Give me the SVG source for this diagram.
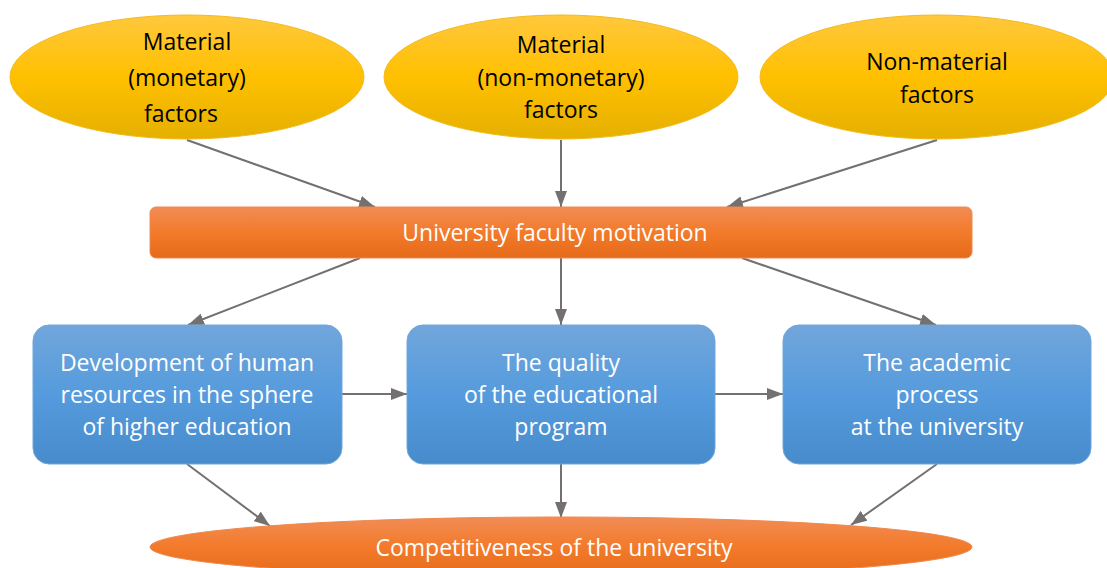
<svg xmlns="http://www.w3.org/2000/svg" width="1107" height="568" viewBox="0 0 1107 568">
<defs>
<linearGradient id="gY" x1="0" y1="0" x2="0" y2="1">
<stop offset="0" stop-color="#FFC83E"/><stop offset="0.5" stop-color="#FFC000"/><stop offset="1" stop-color="#E5B000"/>
</linearGradient>
<linearGradient id="gO" x1="0" y1="0" x2="0" y2="1">
<stop offset="0" stop-color="#F18C55"/><stop offset="0.5" stop-color="#F37A2A"/><stop offset="1" stop-color="#E56B1A"/>
</linearGradient>
<linearGradient id="gB" x1="0" y1="0" x2="0" y2="1">
<stop offset="0" stop-color="#71A6DB"/><stop offset="0.5" stop-color="#559BDD"/><stop offset="1" stop-color="#478BCB"/>
</linearGradient>
<marker id="ah" markerWidth="16" markerHeight="12" refX="16" refY="6" orient="auto" markerUnits="userSpaceOnUse">
<path d="M0,0 L16,6 L0,12 Z" fill="#747070"/>
</marker>
</defs>
<style>
.y{fill:url(#gY);stroke:#F2BA1C;stroke-width:1}
.o{fill:url(#gO);stroke:#EE8A4E;stroke-width:1}
.b{fill:url(#gB);stroke:#6FA6DB;stroke-width:1}
.t{font-family:"Open Sans","Liberation Sans",sans-serif;font-size:23px;text-anchor:middle}
.dk{fill:#000}
.wt{fill:#fff}
.c{stroke:#747070;stroke-width:2;fill:none;marker-end:url(#ah)}
</style>
<g id="connectors">
<line class="c" x1="187" y1="140" x2="375" y2="207"/>
<line class="c" x1="561" y1="140" x2="561" y2="207"/>
<line class="c" x1="937" y1="140" x2="727" y2="207"/>
<line class="c" x1="360" y1="258" x2="188" y2="325"/>
<line class="c" x1="561" y1="258" x2="561" y2="325"/>
<line class="c" x1="742" y1="258" x2="936" y2="325"/>
<line class="c" x1="342" y1="394" x2="407" y2="394"/>
<line class="c" x1="715" y1="394" x2="783" y2="394"/>
<line class="c" x1="187" y1="464" x2="270" y2="526"/>
<line class="c" x1="561" y1="464" x2="561" y2="518"/>
<line class="c" x1="937" y1="464" x2="851" y2="525"/>
</g>
<g id="n1">
<ellipse class="y" cx="187" cy="77" rx="177" ry="62"/>
<text class="t dk" x="187" y="50">Material</text>
<text class="t dk" x="187" y="86">(monetary)</text>
<text class="t dk" x="181" y="122">factors</text>
</g>
<g id="n2">
<ellipse class="y" cx="561" cy="77" rx="177" ry="62"/>
<text class="t dk" x="561" y="53">Material</text>
<text class="t dk" x="561" y="86">(non-monetary)</text>
<text class="t dk" x="561" y="118">factors</text>
</g>
<g id="n3">
<ellipse class="y" cx="937" cy="77" rx="177" ry="62"/>
<text class="t dk" x="937" y="70">Non-material</text>
<text class="t dk" x="937" y="103">factors</text>
</g>
<g id="n4">
<rect class="o" x="150" y="207" width="822" height="51" rx="6"/>
<text class="t wt" x="555" y="241">University faculty motivation</text>
</g>
<g id="n5">
<rect class="b" x="33" y="325" width="309" height="139" rx="16"/>
<text class="t wt" x="187" y="371">Development of human</text>
<text class="t wt" x="187" y="403">resources in the sphere</text>
<text class="t wt" x="187" y="435">of higher education</text>
</g>
<g id="n6">
<rect class="b" x="407" y="325" width="308" height="139" rx="16"/>
<text class="t wt" x="561" y="371">The quality</text>
<text class="t wt" x="561" y="403">of the educational</text>
<text class="t wt" x="561" y="435">program</text>
</g>
<g id="n7">
<rect class="b" x="783" y="325" width="308" height="139" rx="16"/>
<text class="t wt" x="937" y="371">The academic</text>
<text class="t wt" x="937" y="403">process</text>
<text class="t wt" x="937" y="435">at the university</text>
</g>
<g id="n8">
<ellipse class="o" cx="561" cy="547" rx="411" ry="30"/>
<text class="t wt" x="554" y="556">Competitiveness of the university</text>
</g>
</svg>
